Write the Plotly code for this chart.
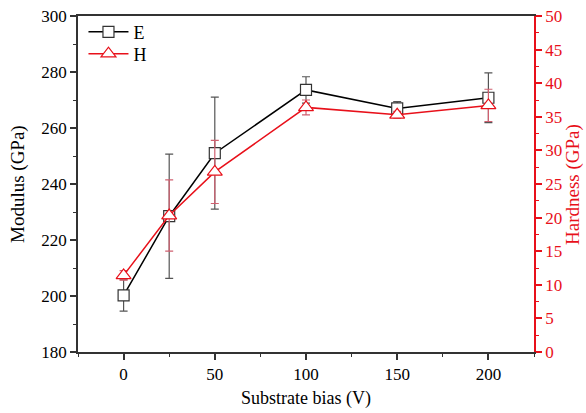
import plotly.graph_objects as go

bias = [0, 25, 50, 100, 150, 200]
modulus = [200.2, 228.5, 251.0, 273.6, 267.0, 270.8]
modulus_err = [5.6, 22.2, 20.0, 4.7, 2.4, 8.9]
hardness = [11.4, 20.3, 26.8, 36.4, 35.3, 36.7]
hardness_err = [0.7, 5.3, 4.7, 1.1, 0.5, 2.4]

FONT = "Liberation Serif, Times New Roman, serif"
RED = "#e8101a"

fig = go.Figure()
fig.add_trace(go.Scatter(
    x=bias, y=modulus, name="E", mode="lines+markers", legend="legend",
    line=dict(color="black", width=1.5),
    marker=dict(symbol="square", size=11, color="white", line=dict(color="#333333", width=1.2)),
    error_y=dict(type="data", array=modulus_err, color="#555555", thickness=1.2, width=4),
))
fig.add_trace(go.Scatter(
    x=bias, y=hardness, name="H", mode="lines+markers", yaxis="y2", legend="legend2",
    line=dict(color=RED, width=1.5),
    marker=dict(symbol="triangle-up", size=13, color="white", line=dict(color=RED, width=1.2)),
    error_y=dict(type="data", array=hardness_err, color="#d06070", thickness=1.2, width=4),
))

legend_style = dict(xanchor="left", yanchor="middle", bgcolor="rgba(0,0,0,0)",
                    font=dict(size=18, family=FONT), itemwidth=40)

fig.update_layout(
    width=586, height=413,
    margin=dict(l=78, r=52, t=16, b=61),
    paper_bgcolor="white", plot_bgcolor="white",
    font=dict(family=FONT, size=17, color="black"),
    showlegend=True,
    legend=dict(x=0.012, y=0.952, **legend_style),
    legend2=dict(x=0.012, y=0.887, **legend_style),
    xaxis=dict(range=[-25, 225], tickvals=[0, 50, 100, 150, 200], showgrid=False, zeroline=False,
               showline=True, linecolor="#333333", linewidth=1.5, mirror=True, automargin=False,
               ticks="outside", ticklen=6, tickwidth=1.5, tickcolor="#333333",
               minor=dict(dtick=25, tick0=0, ticks="outside", ticklen=3, tickcolor="#333333", tickwidth=1.2),
               tickfont=dict(size=17)),
    yaxis=dict(range=[180, 300], dtick=20, showgrid=False, zeroline=False,
               showline=True, linecolor="#333333", linewidth=1.5, automargin=False,
               ticks="outside", ticklen=6, tickwidth=1.5, tickcolor="#333333",
               minor=dict(dtick=10, ticks="outside", ticklen=3, tickcolor="#333333", tickwidth=1.2),
               tickfont=dict(size=17)),
    yaxis2=dict(range=[0, 50], dtick=5, overlaying="y", side="right", showgrid=False, zeroline=False,
                showline=True, linecolor=RED, linewidth=1.5, automargin=False,
                ticks="outside", ticklen=6, tickwidth=1.5, tickcolor=RED,
                minor=dict(dtick=2.5, ticks="outside", ticklen=3, tickcolor=RED, tickwidth=1.2),
                tickfont=dict(size=17, color=RED)),
    annotations=[
        dict(text="Substrate bias (V)", xref="paper", yref="paper", x=0.5, y=-0.137,
             xanchor="center", yanchor="middle", showarrow=False, font=dict(size=18)),
        dict(text="Modulus (GPa)", xref="paper", yref="paper", x=-0.1316, y=0.5, textangle=-90,
             xanchor="center", yanchor="middle", showarrow=False, font=dict(size=19)),
        dict(text="Hardness (GPa)", xref="paper", yref="paper", x=1.0855, y=0.5, textangle=-90,
             xanchor="center", yanchor="middle", showarrow=False, font=dict(size=19, color=RED)),
    ],
)

fig.write_html("out.html", config={"displayModeBar": False},
               post_script="document.body.style.margin='0';")
